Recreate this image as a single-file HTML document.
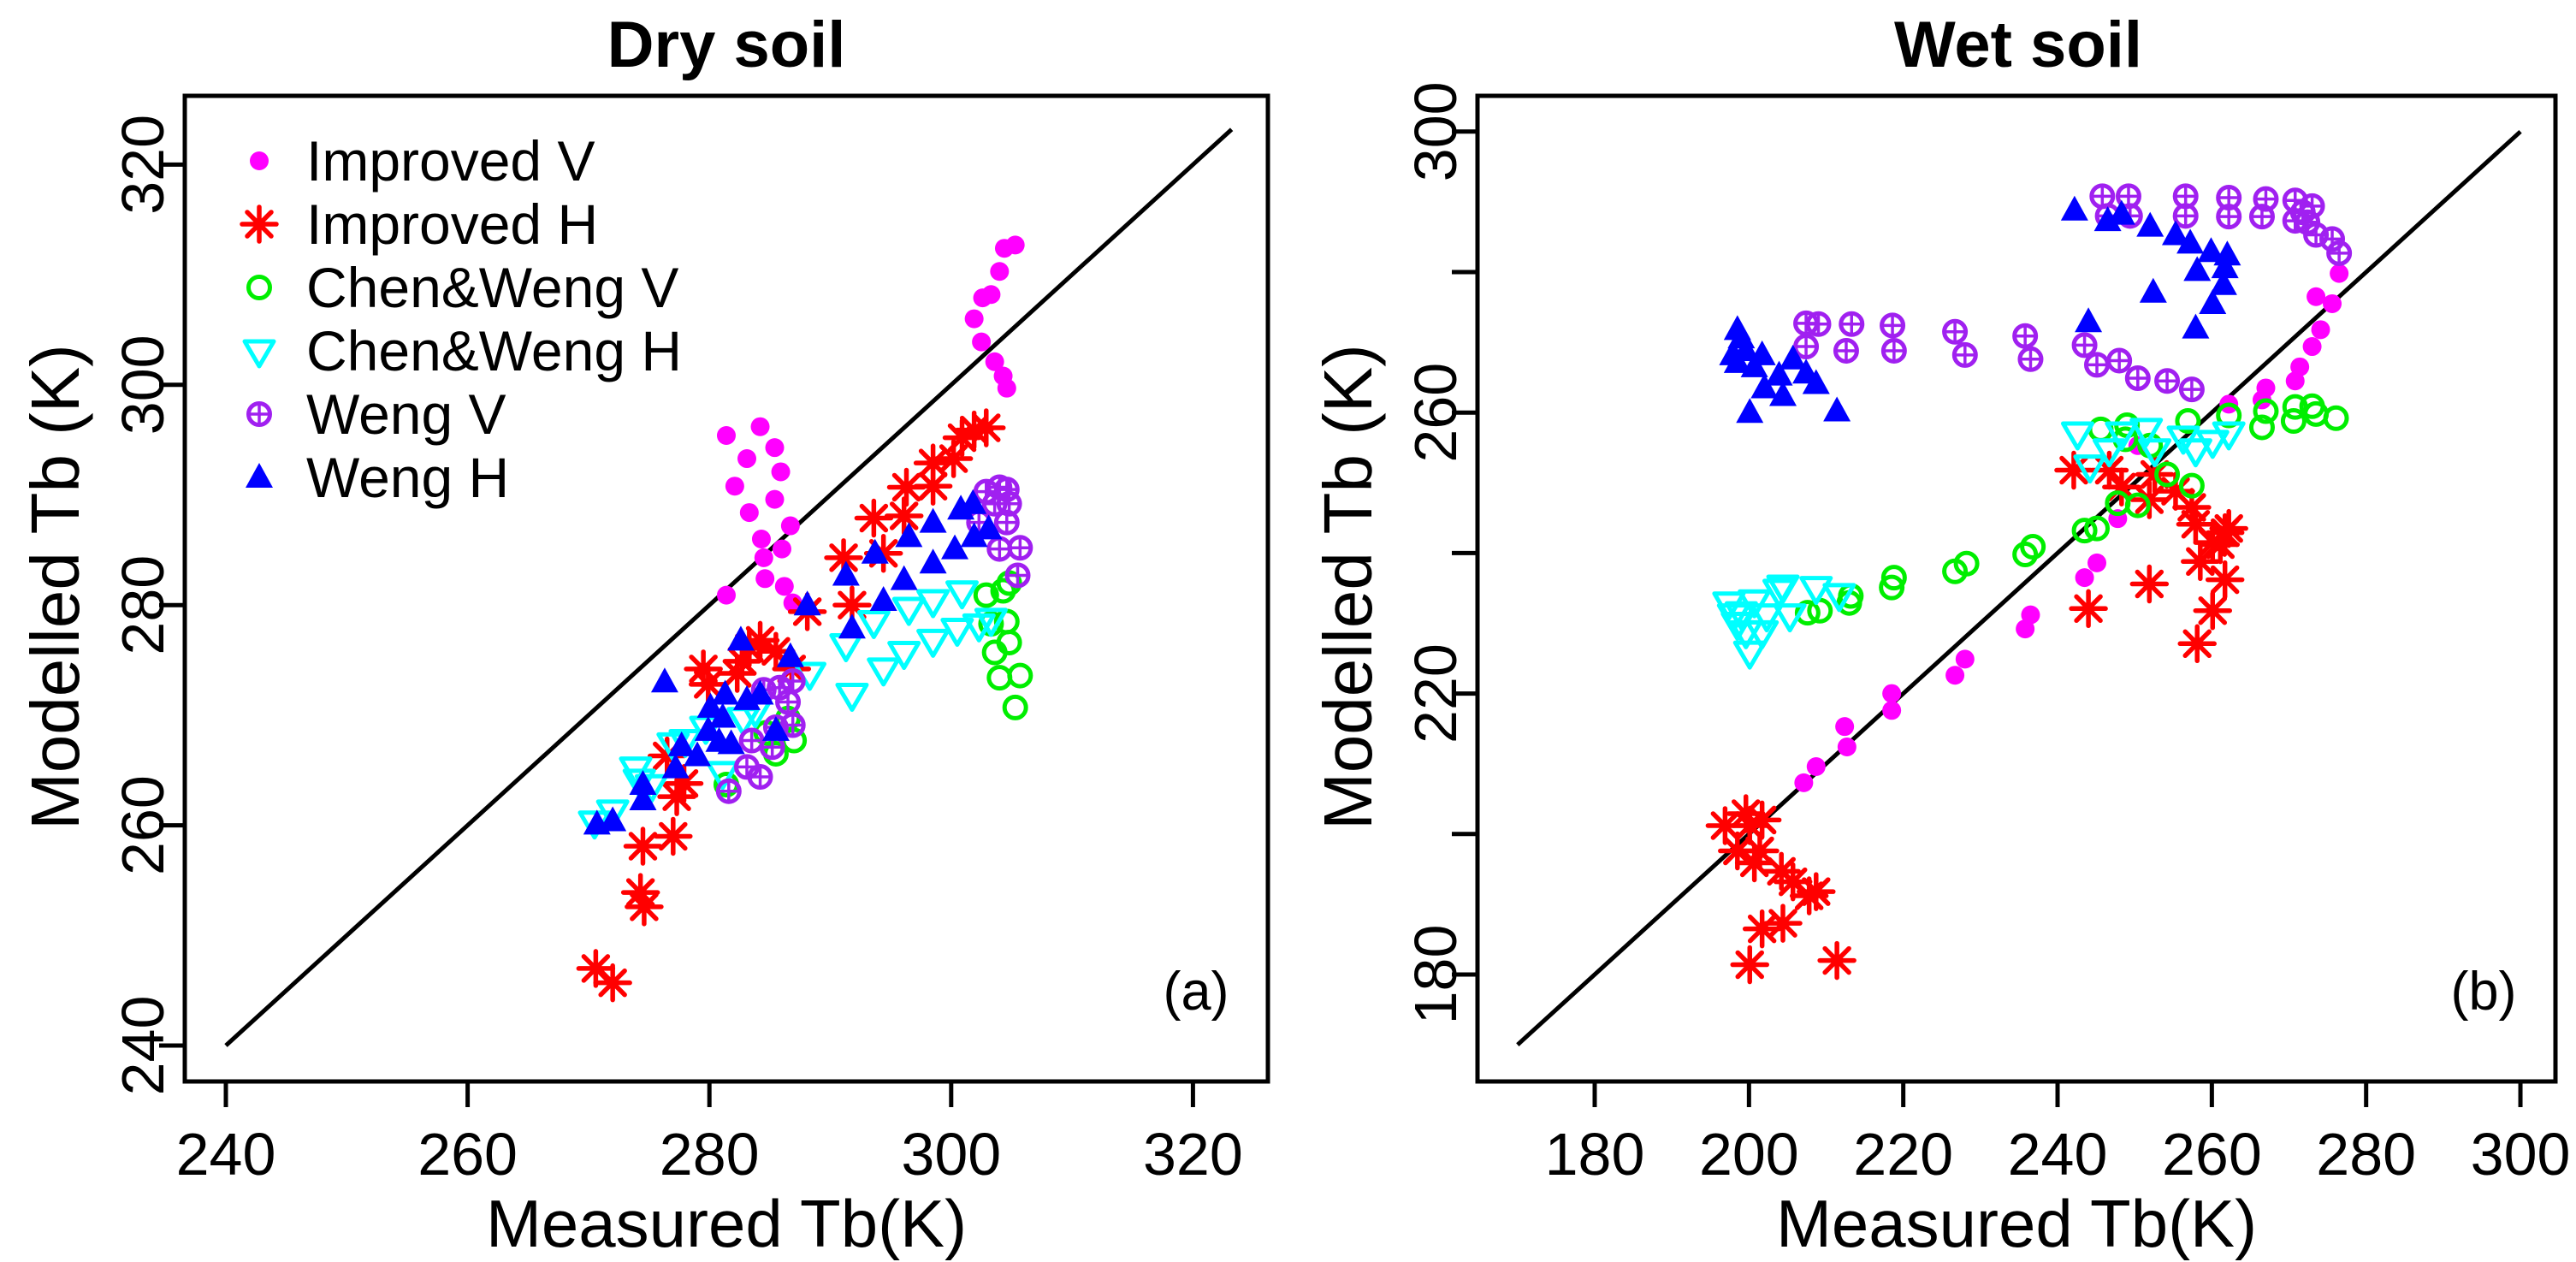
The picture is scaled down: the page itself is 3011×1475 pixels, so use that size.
<!DOCTYPE html>
<html><head><meta charset="utf-8"><style>
html,body{margin:0;padding:0;background:#fff;}
svg{display:block;font-family:"Liberation Sans",Arial,sans-serif;}
</style></head><body>
<svg id="chart" width="3011" height="1475" viewBox="0 0 3011 1475" xmlns="http://www.w3.org/2000/svg">
<rect width="3011" height="1475" fill="#fff"/>
<g id="panelA"></g>
<g id="panelB"></g>
</svg>
<script>
// ---- Dry soil data ----
const dryImpVx=[281.4,282.1,281.4,283.1,283.3,284.2,284.3,284.5,284.6,285.4,285.4,285.9,286.0,286.2,286.7,286.9,301.9,302.6,303.3,302.5,303.6,304.0,304.4,305.3,304.3,304.6];
const dryImpVy=[295.4,290.8,280.9,293.3,288.4,296.2,286.0,284.3,282.4,294.3,289.6,292.1,285.1,281.7,287.2,280.2,306.0,307.9,308.2,303.9,302.1,310.3,312.4,312.7,300.8,299.7];
const dryImpHx=[270.6,272.0,274.3,274.6,274.5,277.0,277.3,277.9,276.5,279.5,279.9,282.3,282.7,283.3,284.2,285.5,286.8,288.1,291.1,291.8,293.6,294.4,296.1,296.3,298.5,298.5,300.2,300.9,301.9,302.9];
const dryImpHy=[247.0,245.7,253.9,252.6,258.1,259.0,262.6,263.8,266.3,274.2,272.8,273.8,274.9,276.1,276.8,275.8,274.2,279.4,284.3,280.0,287.9,284.7,288.1,290.7,292.9,290.8,293.3,295.2,295.9,296.1];
const dryCWVx=[305.3,305.7,304.0,304.8,303.6,304.6,304.3,304.8,302.9,303.3,285.5,287.0,286.5,281.4,284.7];
const dryCWVy=[270.7,273.6,273.4,276.6,275.7,278.5,281.3,282.0,280.9,278.3,266.5,267.7,269.7,263.7,268.4];
const dryCWHx=[270.5,272.0,273.9,274.2,275.2,277.0,278.0,279.7,281.1,282.8,283.8,288.3,291.3,291.8,293.6,294.4,296.1,296.5,298.5,298.5,300.5,300.9,302.3,303.3];
const dryCWHy=[260.3,261.3,265.2,264.1,263.6,267.4,267.7,268.9,264.8,269.7,270.4,273.8,276.4,271.9,278.5,274.2,275.7,279.7,280.4,276.8,277.8,281.2,278.2,278.7];
const dryWVx=[281.6,283.1,284.2,283.5,285.2,285.5,286.9,284.5,285.8,286.5,286.9,302.9,304.0,304.6,302.3,304.6,304.0,305.7,305.5,303.6,304.8];
const dryWVy=[263.1,265.3,264.4,267.7,267.1,268.9,269.1,272.3,272.5,271.2,273.1,290.3,290.7,290.5,287.5,287.5,285.1,285.2,282.7,289.2,289.2];
const dryWHx=[270.7,272.0,274.5,274.5,276.3,277.2,277.7,279.0,279.9,280.1,280.8,281.1,281.3,281.8,282.6,283.1,284.2,285.5,286.7,288.1,291.3,291.8,293.7,294.4,296.1,296.5,298.5,298.5,300.3,300.8,301.9,301.8,303.1];
const dryWHy=[260.1,260.4,263.7,262.3,273.0,265.2,267.2,266.3,268.6,270.7,267.6,269.8,271.9,267.4,276.8,271.4,271.9,268.6,275.3,280.0,282.7,277.9,284.7,280.4,282.3,286.2,283.8,287.5,285.1,288.7,286.2,289.2,286.9];
// ---- Wet soil data ----
const wetImpVx=[207.1,208.7,212.4,212.7,218.5,218.5,226.7,228.0,235.8,236.5,243.5,245.1,247.8,267.0,266.5,270.8,271.4,273.0,274.1,273.5,275.6,276.5,262.2,250.4];
const wetImpVy=[207.3,209.6,215.3,212.4,220.0,217.6,222.6,224.9,229.2,231.2,236.5,238.6,244.9,263.5,261.8,264.5,266.5,269.4,271.8,276.5,275.5,279.8,261.2,255.3];
const wetImpHx=[196.9,198.5,200.1,199.6,200.7,201.7,201.4,204.2,205.7,207.8,208.7,201.7,204.4,200.1,211.4,242.1,244.0,246.7,248.3,251.9,251.9,252.6,255.3,257.4,257.9,258.1,258.5,260.1,260.1,261.1,261.7,261.7,262.2];
const wetImpHy=[201.2,197.6,201.2,202.9,195.9,202.0,197.6,194.7,193.2,191.2,191.8,186.5,187.3,181.4,182.0,251.8,232.1,251.8,249.4,247.6,235.6,251.2,248.8,246.5,244.1,227.1,238.8,241.5,231.8,241.2,242.9,236.2,243.5];
const wetCWVx=[207.6,209.2,213.0,213.2,218.5,218.8,226.7,228.2,235.8,236.8,243.5,245.1,245.6,247.8,248.8,249.0,250.4,252.0,254.2,256.9,257.4,262.2,266.5,267.0,270.6,270.8,273.0,273.5,276.1];
const wetCWVy=[231.5,231.8,232.9,233.9,235.1,236.5,237.4,238.5,239.8,240.9,243.2,243.5,257.6,247.1,256.2,258.2,246.8,255.3,251.2,258.8,249.6,259.6,257.9,260.2,258.8,260.8,260.9,259.8,259.2];
const wetCWHx=[197.4,198.0,198.5,199.0,199.6,200.1,200.7,201.7,202.3,203.9,204.4,205.3,208.7,211.7,242.6,244.2,246.7,248.3,251.5,252.6,256.3,257.9,260.1,262.2];
const wetCWHy=[232.9,231.2,230.0,231.5,228.8,225.9,233.2,228.8,231.2,234.7,235.3,231.2,235.1,234.1,257.1,252.4,254.7,257.1,257.6,254.7,256.5,254.7,255.9,257.1];
const wetWVx=[207.4,207.4,209.0,213.3,212.6,218.6,218.8,226.7,228.0,235.8,236.5,243.5,245.1,248.0,250.4,254.2,257.4,245.8,249.2,246.5,249.4,256.6,256.6,262.2,262.2,267.0,266.5,270.8,270.8,273.0,273.5,275.6,276.5,272.4,271.8];
const wetWVy=[272.7,269.4,272.6,272.6,268.8,272.4,268.8,271.5,268.2,270.9,267.6,269.6,266.8,267.4,264.9,264.5,263.3,290.8,290.8,288.0,288.0,290.8,288.0,290.6,287.9,290.4,287.9,290.2,287.3,289.4,285.3,284.7,282.7,287.1,288.5];
const wetWHx=[198.5,199.0,197.9,199.6,198.5,200.1,200.7,201.7,202.0,203.9,204.4,205.7,207.4,208.7,211.4,242.2,244.0,246.5,248.3,252.0,252.4,255.3,257.2,258.1,257.9,259.9,260.1,261.5,261.7,262.0];
const wetWHy=[271.8,270.6,268.2,268.8,267.1,260.0,266.5,268.2,263.5,265.3,262.4,267.6,265.6,264.1,260.2,288.8,272.9,287.3,288.2,286.5,277.1,285.3,284.1,280.2,272.0,282.9,275.5,278.2,280.6,282.4];
const legendLabels=["Improved V","Improved H","Chen&Weng V","Chen&Weng H","Weng V","Weng H"];
const dryXTicks=[240,260,280,300,320];
const dryYTicks=[240,260,280,300,320];
const wetXTicks=[180,200,220,240,260,280,300];
const wetYTicks=[180,200,220,240,260,280,300];
const wetYLabels=[180,220,260,300];

const NS="http://www.w3.org/2000/svg";
function mk(parent,tag,attrs){const e=document.createElementNS(NS,tag);for(const k in attrs)e.setAttribute(k,attrs[k]);parent.appendChild(e);return e;}

function marker(g,type,cx,cy){
  let e;
  if(type==='dot'){e=mk(g,'circle',{cx:cx,cy:cy,r:11,fill:'#ff00ff'});}
  else if(type==='ast'){e=mk(g,'path',{d:`M${cx-20},${cy}H${cx+20}M${cx},${cy-20}V${cy+20}M${cx-14},${cy-14}L${cx+14},${cy+14}M${cx-14},${cy+14}L${cx+14},${cy-14}`,stroke:'#ff0000','stroke-width':5.5,fill:'none','stroke-linecap':'round'});}
  else if(type==='circ'){e=mk(g,'circle',{cx:cx,cy:cy,r:12.5,fill:'none',stroke:'#00ee00','stroke-width':5});}
  else if(type==='tdown'){e=mk(g,'path',{d:`M${cx-17},${cy-11}L${cx+17},${cy-11}L${cx},${cy+18}Z`,fill:'none',stroke:'#00ffff','stroke-width':5,'stroke-linejoin':'round'});}
  else if(type==='cplus'){const gg=mk(g,'g',{});mk(gg,'circle',{cx:cx,cy:cy,r:12.5,fill:'none',stroke:'#a020f0','stroke-width':5});mk(gg,'path',{d:`M${cx-12},${cy}H${cx+12}M${cx},${cy-12}V${cy+12}`,stroke:'#a020f0','stroke-width':3.5});e=gg;}
  else {e=mk(g,'path',{d:`M${cx},${cy-17}L${cx+16},${cy+12}L${cx-16},${cy+12}Z`,fill:'#0000ff'});}
  return e;
}
const types=['dot','ast','circ','tdown','cplus','tri'];
const seriesNames=['improved-v','improved-h','chen-weng-v','chen-weng-h','weng-v','weng-h'];

function panel(gid,cfg){
  const g=document.getElementById(gid);
  const sx=v=>cfg.x0+(v-cfg.xa)*cfg.kx, sy=v=>cfg.y0-(v-cfg.ya)*cfg.ky;
  const t=mk(g,'text',{x:cfg.titleX,y:78,'text-anchor':'middle','font-size':76,'font-weight':'bold'});t.textContent=cfg.title;
  
  
  const d=mk(g,'line',{x1:sx(cfg.d0),y1:sy(cfg.d0),x2:sx(cfg.d1),y2:sy(cfg.d1),stroke:'#000','stroke-width':5});
  
  
  cfg.series.forEach((s,i)=>{
    const sg=mk(g,'g',{});
    
    
    s[0].forEach((xv,j)=>{const m=marker(sg,types[i],sx(xv),sy(s[1][j]));
      
      });
  });
  const b=mk(g,'rect',{x:cfg.bx,y:112,width:cfg.bw,height:1152,fill:'none',stroke:'#000','stroke-width':5});
  
  
  cfg.xt.forEach(v=>{const x=sx(v);mk(g,'line',{x1:x,y1:1264,x2:x,y2:1294,stroke:'#000','stroke-width':5});
    const l=mk(g,'text',{x:x,y:1373,'text-anchor':'middle','font-size':70});l.textContent=v;
    
    });
  cfg.yt.forEach(v=>{const y=sy(v);mk(g,'line',{x1:cfg.bx,y1:y,x2:cfg.bx-30,y2:y,stroke:'#000','stroke-width':5});});
  cfg.yl.forEach(v=>{const y=sy(v);const l=mk(g,'text',{x:0,y:0,'text-anchor':'middle','font-size':70,transform:`translate(${cfg.bx-25},${y}) rotate(-90)`});l.textContent=v;
    
    });
  const xt=mk(g,'text',{x:cfg.bx+cfg.bw/2+(cfg.xtOff||0),y:1457,'text-anchor':'middle','font-size':78});xt.textContent='Measured Tb(K)';
  
  
  const yt=mk(g,'text',{x:0,y:0,'text-anchor':'middle','font-size':80,transform:`translate(${cfg.bx-124},686) rotate(-90)`});yt.textContent='Modelled Tb (K)';
  
  
  const pl=mk(g,'text',{x:cfg.bx+cfg.bw-84,y:1180,'text-anchor':'middle','font-size':63});pl.textContent=cfg.lab;
  
  
  return g;
}

const gA=panel('panelA',{title:'Dry soil',titleX:849,x0:264,xa:240,kx:14.13,y0:1222,ya:240,ky:12.87,d0:240,d1:323.2,bx:216,bw:1266,
  xt:dryXTicks,yt:dryYTicks,yl:dryYTicks,lab:'(a)',
  series:[[dryImpVx,dryImpVy],[dryImpHx,dryImpHy],[dryCWVx,dryCWVy],[dryCWHx,dryCWHy],[dryWVx,dryWVy],[dryWHx,dryWHy]]});
panel('panelB',{title:'Wet soil',titleX:2359,x0:1864,xa:180,kx:9.017,y0:1139,ya:180,ky:8.21,d0:170,d1:300,bx:1727,bw:1260,
  xt:wetXTicks,yt:wetYTicks,yl:wetYLabels,lab:'(b)',
  series:[[wetImpVx,wetImpVy],[wetImpHx,wetImpHy],[wetCWVx,wetCWVy],[wetCWHx,wetCWHy],[wetWVx,wetWVy],[wetWHx,wetWHy]]});

const lg=mk(gA,'g',{});


legendLabels.forEach((name,i)=>{
  const y=188+i*74;
  const eg=mk(lg,'g',{});
  
  
  marker(eg,types[i],303,y);
  const t=mk(eg,'text',{x:358,y:y+23,'font-size':66});t.textContent=name;
});
</script>
</body></html>
